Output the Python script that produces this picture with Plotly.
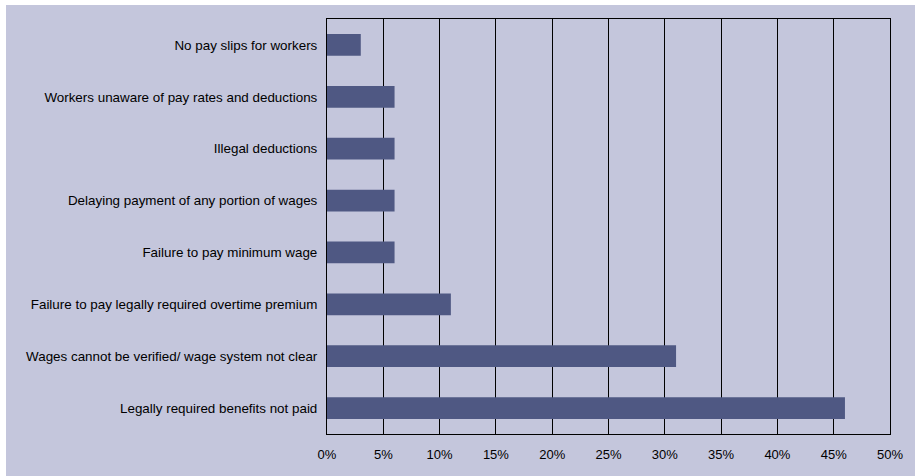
import plotly.graph_objects as go

categories = [
    "No pay slips for workers",
    "Workers unaware of pay rates and deductions",
    "Illegal deductions",
    "Delaying payment of any portion of wages",
    "Failure to pay minimum wage",
    "Failure to pay legally required overtime premium",
    "Wages cannot be verified/ wage system not clear",
    "Legally required benefits not paid",
]
values = [3, 6, 6, 6, 6, 11, 31, 46]
tick_vals = [0, 5, 10, 15, 20, 25, 30, 35, 40, 45, 50]
tick_text = [f"{v}%" for v in tick_vals]

W, H = 917, 476
ml, mr, mt, mb = 327, 27, 19, 42
pw, ph = W - ml - mr, H - mt - mb
bg = "#C4C6DC"

fig = go.Figure(go.Bar(
    x=values, y=categories, orientation="h",
    marker=dict(color="#4F5883", line=dict(width=0)),
    hoverinfo="x+y",
))

fig.update_layout(
    width=W, height=H,
    margin=dict(l=ml, r=mr, t=mt, b=mb, pad=0, autoexpand=False),
    paper_bgcolor="white",
    plot_bgcolor=bg,
    bargap=0.58,
    showlegend=False,
    font=dict(family="Liberation Sans, Arial, sans-serif", size=13, color="black"),
    xaxis=dict(
        range=[0, 50], tickvals=tick_vals, ticktext=tick_text,
        showgrid=True, gridcolor="black", gridwidth=1,
        showline=True, linecolor="black", linewidth=1, mirror=True,
        zeroline=False, ticks="", ticklabelstandoff=8, automargin=False,
        tickfont=dict(size=13),
        fixedrange=True,
    ),
    yaxis=dict(
        categoryorder="array", categoryarray=categories[::-1],
        showgrid=False, showline=True, linecolor="black", linewidth=1, mirror=True,
        ticks="", ticklabelstandoff=6, automargin=False,
        tickfont=dict(size=13.4),
        fixedrange=True,
    ),
    shapes=[dict(
        type="rect", xref="paper", yref="paper", layer="below",
        x0=(6 - ml) / pw, x1=(915 - ml) / pw,
        y0=(mt + ph - 520) / ph, y1=(mt + ph - 5) / ph,
        fillcolor=bg, line=dict(width=0),
    )],
)

fig.write_html(
    "out.html",
    config={"displayModeBar": False},
    post_script="document.body.style.margin='0';document.body.style.overflow='hidden';",
)
